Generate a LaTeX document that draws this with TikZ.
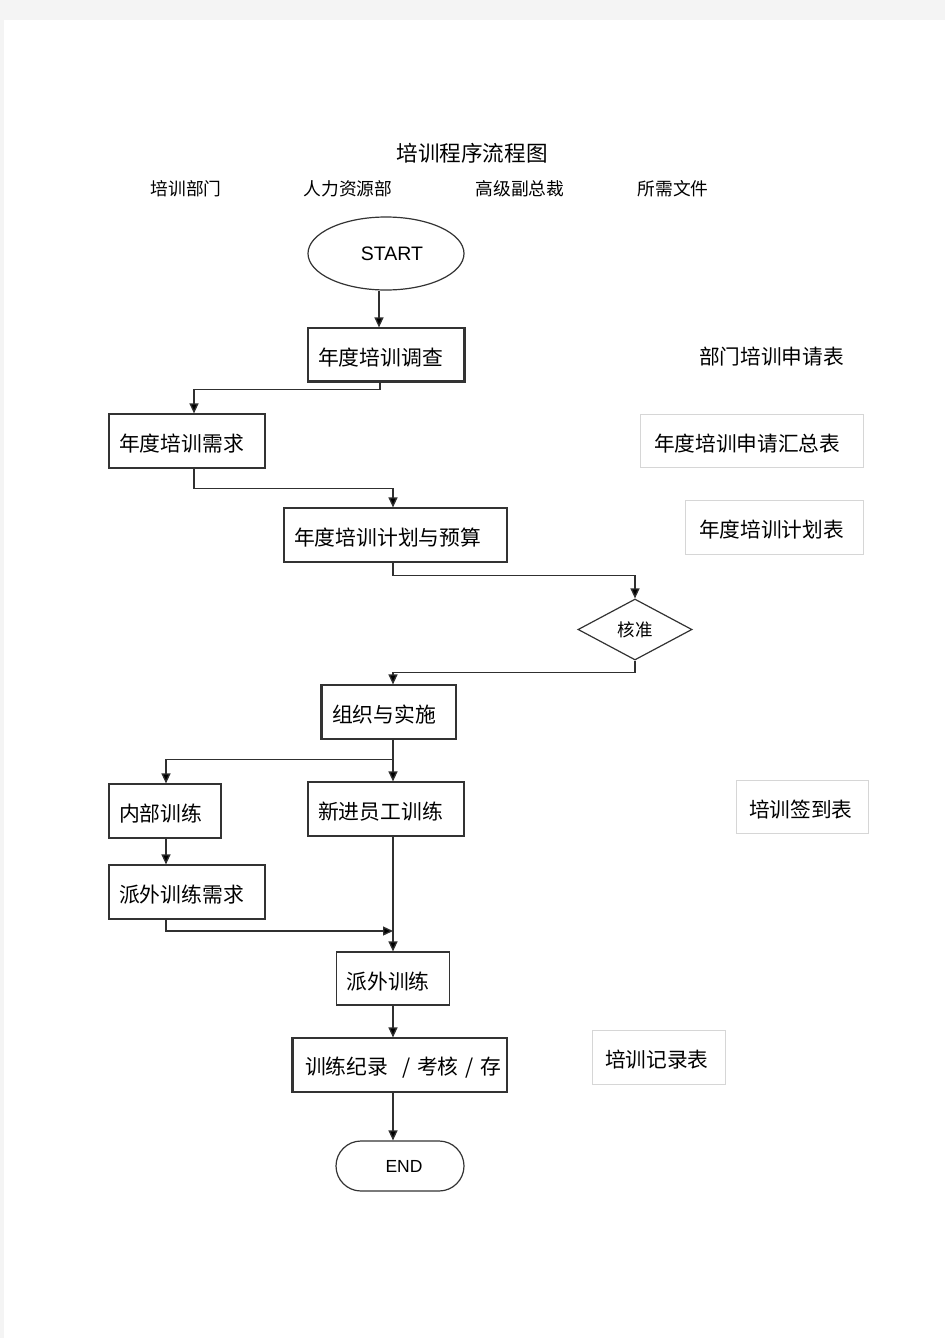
\documentclass[tikz,border=0pt]{standalone}
\usepackage{fontspec}
\setmainfont{Liberation Sans}
\newfontfamily\cjk{Noto Sans CJK SC}
\usetikzlibrary{shapes.geometric,arrows.meta}
\definecolor{pagegray}{HTML}{F4F4F4}
\definecolor{boxc}{HTML}{333333}
\definecolor{linec}{HTML}{303030}
\definecolor{docc}{HTML}{D6D6D6}
\newcommand{\lowtext}[1]{\raisebox{-3pt}[\height][\depth]{#1}}
\begin{document}
\begin{tikzpicture}[x=1pt,y=-1pt,
  box/.style={draw=boxc, line width=1.2pt, inner xsep=10pt, inner ysep=0pt, align=left,
    font=\cjk\fontsize{20.8}{24}\selectfont, text=black},
  doc/.style={draw=docc, line width=1pt, inner xsep=14pt, inner ysep=0pt, align=left,
    font=\cjk\fontsize{20.7}{24}\selectfont, text=black},
  arr/.style={draw=linec, line width=1.3pt, -{Triangle[length=10pt,width=9pt,fill=black]}},
  hdr/.style={font=\cjk\fontsize{17.75}{20}\selectfont, text=black},
  heavy/.style={draw=boxc, line width=2pt}
]
\fill[pagegray] (0,0) rectangle (945,1338);
\fill[white] (4,20) rectangle (945,1338);
\useasboundingbox (0,0) rectangle (945,1338);

% titles
\node[font=\cjk\fontsize{21.6}{24}\selectfont, text=black] (title) at (472,153) {培训程序流程图};
\node[hdr] (h1) at (186,189) {培训部门};
\node[hdr] (h2) at (348,189) {人力资源部};
\node[hdr] (h3) at (520,189) {高级副总裁};
\node[hdr] (h4) at (673,189) {所需文件};

% flow nodes
\node[draw=boxc, line width=1.2pt, ellipse, minimum width=156pt, minimum height=73pt, inner sep=0pt,
  font=\fontsize{19.5}{22}\selectfont] (start) at (386,253.5) {\hspace*{12pt}START};
\node[box, minimum height=53pt, text width=136pt] (survey) at (386,354.5) {\lowtext{年度培训调查}};
\node[box, minimum height=54pt, text width=136pt] (demand) at (187,441) {\lowtext{年度培训需求}};
\node[box, minimum height=54pt, text width=203pt] (plan) at (395.5,535) {\lowtext{年度培训计划与预算}};
\node[draw=boxc, line width=1.2pt, diamond, aspect=1.87, minimum width=114pt, minimum height=61pt,
  inner sep=0pt, font=\cjk\fontsize{17.5}{20}\selectfont] (check) at (635,629.5) {核准};
\node[box, minimum height=54pt, text width=114pt] (org) at (389,712) {\lowtext{组织与实施}};
\node[box, minimum height=54pt, text width=92pt] (internal) at (165,811) {\lowtext{内部训练}};
\node[box, minimum height=54pt, text width=136pt] (newemp) at (386,809) {\lowtext{新进员工训练}};
\node[box, minimum height=54pt, text width=136pt] (extneed) at (187,892) {\lowtext{派外训练需求}};
\node[box, minimum height=53pt, text width=93pt] (ext) at (393,978.5) {\lowtext{派外训练}};
\node[box, minimum height=54pt, inner xsep=12pt, text width=190pt] (record) at (400,1065) {\lowtext{训练纪录~~/~考核~/~存}};
\node[draw=boxc, line width=1.2pt, rectangle, rounded corners=25pt, minimum width=128pt, minimum height=50pt,
  inner sep=0pt, font=\fontsize{17.5}{20}\selectfont] (end) at (400,1166) {\hspace*{8pt}END};

% heavier edges
\draw[heavy] (survey.north east) -- (survey.south east) -- (survey.south west);
\draw[heavy] (org.north west) -- (org.south west);
\draw[heavy] (record.north west) -- (record.south west);

% documents
\node[font=\cjk\fontsize{20.7}{24}\selectfont] (docA) at (771.5,357) {部门培训申请表};
\node[doc, minimum height=53pt, text width=195pt] (docB) at (751.5,440.5) {\lowtext{年度培训申请汇总表}};
\node[doc, minimum height=54pt, text width=150pt] (docC) at (774,527) {\lowtext{年度培训计划表}};
\node[doc, minimum height=53pt, inner xsep=13pt, text width=106pt] (docD) at (802,806.5) {\lowtext{培训签到表}};
\node[doc, minimum height=54pt, inner xsep=13pt, text width=107pt] (docE) at (658.5,1057) {\lowtext{培训记录表}};

% connectors
\draw[arr] ([xshift=-7pt]start.south) -- ([xshift=-7pt]survey.north);
\draw[arr] ([xshift=-6pt]survey.south) -- ++(0,8) -| ([xshift=7pt]demand.north);
\draw[arr] ([xshift=7pt]demand.south) -- ++(0,20) -| ([xshift=-2.5pt]plan.north);
\draw[arr] ([xshift=-2.5pt]plan.south) -- ++(0,13) -| (check.north);
\draw[arr] (check.south) -- ++(0,12) -| ([xshift=4pt]org.north);
\draw[arr] ([xshift=4pt]org.south) -- ([xshift=7pt]newemp.north);
\coordinate (br) at ([xshift=4pt,yshift=-20pt]org.south);
\draw[arr] (br) -| ([xshift=1pt]internal.north);
\draw[arr] ([xshift=1pt]internal.south) -- ([xshift=-21pt]extneed.north);
\coordinate (j) at (393,931);
\draw[arr] ([xshift=-21pt]extneed.south) |- (j);
\draw[arr] ([xshift=7pt]newemp.south) -- (ext.north);
\draw[arr] (ext.south) -- (ext.south |- record.north);
\draw[arr] (ext.south |- record.south) -- (ext.south |- end.north);
\end{tikzpicture}
\end{document}
